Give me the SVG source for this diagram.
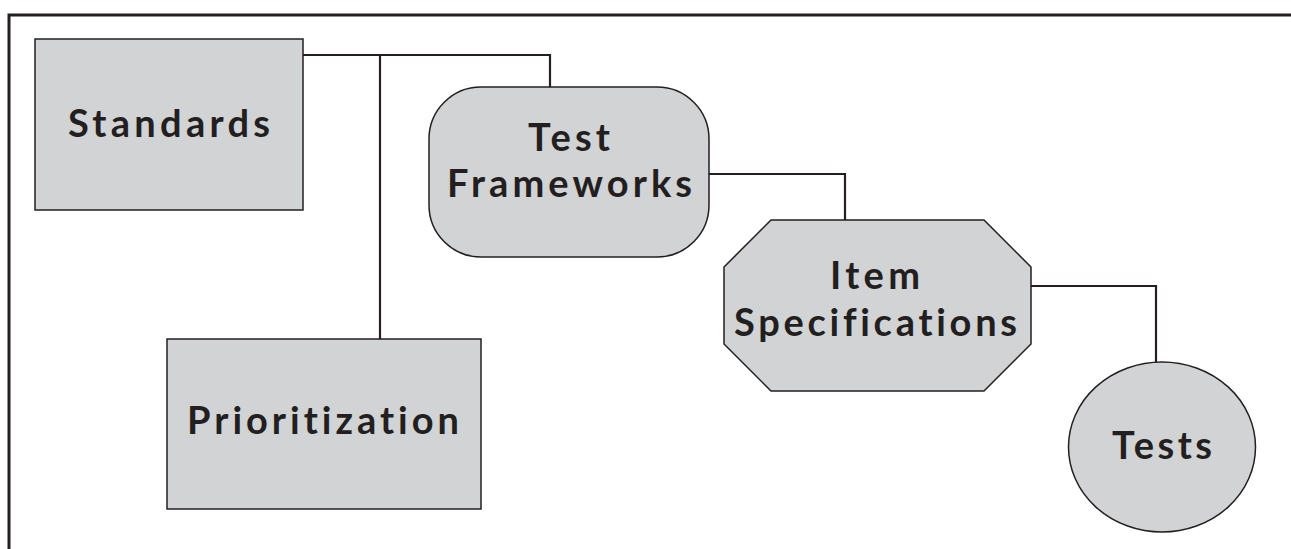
<svg xmlns="http://www.w3.org/2000/svg" width="1291" height="549" viewBox="0 0 1291 549">
  <style>
    .node { fill: #d1d3d4; stroke: #231f20; stroke-width: 1.5; }
    .wire { fill: none; stroke: #231f20; stroke-width: 2.2; }
    .frame { fill: none; stroke: #231f20; stroke-width: 3; }
    .label { font-family: Lato, "Open Sans", "Liberation Sans", sans-serif; font-weight: 700; font-size: 38px; fill: #231f20; text-anchor: middle; font-variant-ligatures: none; font-feature-settings: "liga" 0, "dlig" 0; }
  </style>
  <rect width="1291" height="549" fill="#ffffff"/>

  <!-- open frame: top and left edges only -->
  <path class="frame" d="M9 549 V15 H1291"/>

  <g id="connectors">
    <path class="wire" d="M303 55 H550 V87"/>
    <path class="wire" d="M380 55 V339"/>
    <path class="wire" d="M709 174 H845 V220"/>
    <path class="wire" d="M1031 286 H1156 V362"/>
  </g>

  <g id="standards">
    <rect class="node" x="35" y="39" width="268" height="171"/>
    <text class="label" x="169" y="137" textLength="202" lengthAdjust="spacing">Standards</text>
  </g>

  <g id="prioritization">
    <rect class="node" x="167" y="339" width="314" height="170"/>
    <text class="label" x="323" y="434" textLength="272" lengthAdjust="spacing">Prioritization</text>
  </g>

  <g id="test-frameworks">
    <rect class="node" x="429" y="87" width="280" height="170" rx="52" ry="52"/>
    <text class="label" x="569" y="151" textLength="82" lengthAdjust="spacing">Test</text>
    <text class="label" x="569.5" y="197" textLength="245" lengthAdjust="spacing">Frameworks</text>
  </g>

  <g id="item-specifications">
    <polygon class="node" points="771,220 984,220 1031,267 1031,344 984,391 771,391 724,344 724,267"/>
    <text class="label" x="875" y="289" textLength="90" lengthAdjust="spacing">Item</text>
    <text class="label" x="875.5" y="336" textLength="283" lengthAdjust="spacing">Specifications</text>
  </g>

  <g id="tests">
    <ellipse class="node" cx="1162" cy="447" rx="93.5" ry="85"/>
    <text class="label" x="1162" y="459" textLength="100" lengthAdjust="spacing">Tests</text>
  </g>
</svg>
